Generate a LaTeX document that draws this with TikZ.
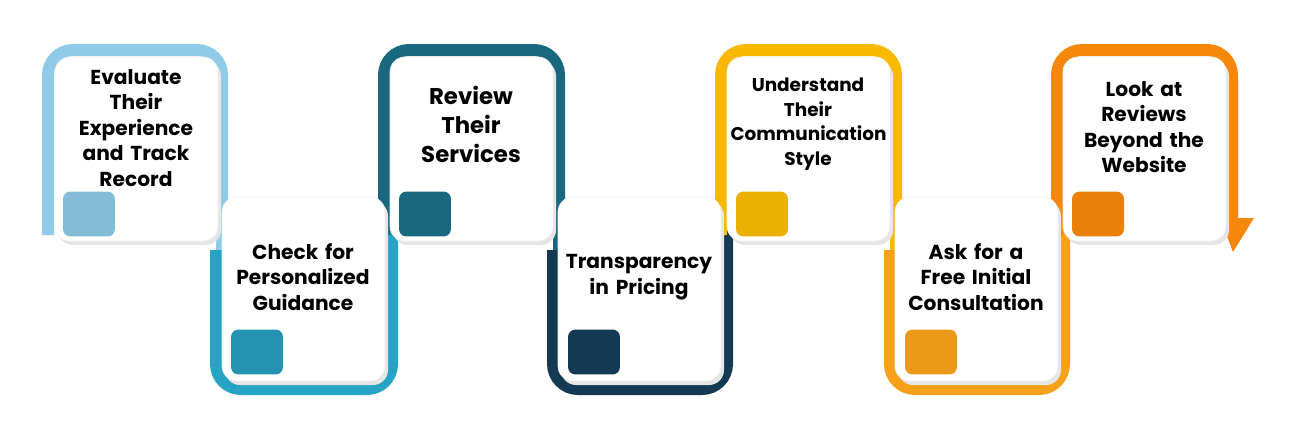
\documentclass[tikz,border=0pt]{standalone}
\usepackage{fontspec}
\setmainfont{Poppins}
\usetikzlibrary{positioning}
\definecolor{sky}{HTML}{8FCBE8}
\definecolor{teal}{HTML}{27A3C4}
\definecolor{petrol}{HTML}{1A6880}
\definecolor{navy}{HTML}{133A52}
\definecolor{gold}{HTML}{F8B900}
\definecolor{amber}{HTML}{F7A11A}
\definecolor{tangerine}{HTML}{F5870A}
\tikzset{
  frame/.style={line width=0.24cm, rounded corners=0.5cm},
  card/.style={fill=white, rounded corners=0.3cm, draw=black!6},
  tagbox/.style={rounded corners=0.15cm, minimum width=1.04cm, minimum height=0.9cm, inner sep=0pt},
  label/.style={font=\bfseries\fontsize{11.5}{14.5}\selectfont, align=center, text width=3.1cm}
}
\begin{document}
\begin{tikzpicture}[x=0.02cm, y=-0.02cm]

    \useasboundingbox (0,0) rectangle (1296,433);

    % Colored ribbons behind the cards
    \draw[frame, sky] (48,235) -- (48,50) -- (222,50) -- (222,262);
    \draw[frame, teal] (216,250) -- (216,389) -- (392,389) -- (392,215);
    \draw[frame, petrol] (384,235) -- (384,50) -- (559,50) -- (559,262);
    \draw[frame, navy] (553,250) -- (553,389) -- (727,389) -- (727,215);
    \draw[frame, gold] (721,235) -- (721,50) -- (896,50) -- (896,262);
    \draw[frame, amber] (890,250) -- (890,389) -- (1064,389) -- (1064,215);
    \draw[frame, tangerine] (1057,235) -- (1057,50) -- (1232,50) -- (1232,225);
    \fill[tangerine] (1220,218) -- (1254,218) -- (1233,252) -- cycle;

    % Cards with a soft shadow
    \foreach \cx/\cy in {55/57, 390/57, 727/57, 1063/57, 222/197, 558/197, 895/197} {
        \fill[black!10, rounded corners=0.3cm] (\cx+3,\cy+4) rectangle +(163,184);
        \draw[card] (\cx,\cy) rectangle +(163,184);
    }

    % Small colored tags
    \node[tagbox, fill=sky!92!black] (tag1) at (89,214) {};
    \node[tagbox, fill=teal!90!black] (tag2) at (257,352) {};
    \node[tagbox, fill=petrol] (tag3) at (425,214) {};
    \node[tagbox, fill=navy] (tag4) at (594,352) {};
    \node[tagbox, fill=gold!95!black] (tag5) at (762,214) {};
    \node[tagbox, fill=amber!95!black] (tag6) at (931,352) {};
    \node[tagbox, fill=tangerine!95!black] (tag7) at (1098,214) {};

    % Step texts
    \node[label] (evaluate) at (136,128) {Evaluate\\Their\\Experience\\and Track\\Record};
    \node[label] (check) at (303,277) {Check for\\Personalized\\Guidance};
    \node[label, font=\bfseries\fontsize{13}{16.5}\selectfont] (review) at (471,124) {Review\\Their\\Services};
    \node[label, font=\bfseries\fontsize{10.5}{14}\selectfont] (understand) at (808,124) {Understand\\Their\\Communication\\Style};
    \node[label] (pricing) at (639,277) {Transparency\\in Pricing};
    \node[label] (consult) at (976,277) {Ask for a\\Free Initial\\Consultation};
    \node[label] (reviews) at (1144,127) {Look at\\Reviews\\Beyond the\\Website};

\end{tikzpicture}
\end{document}
